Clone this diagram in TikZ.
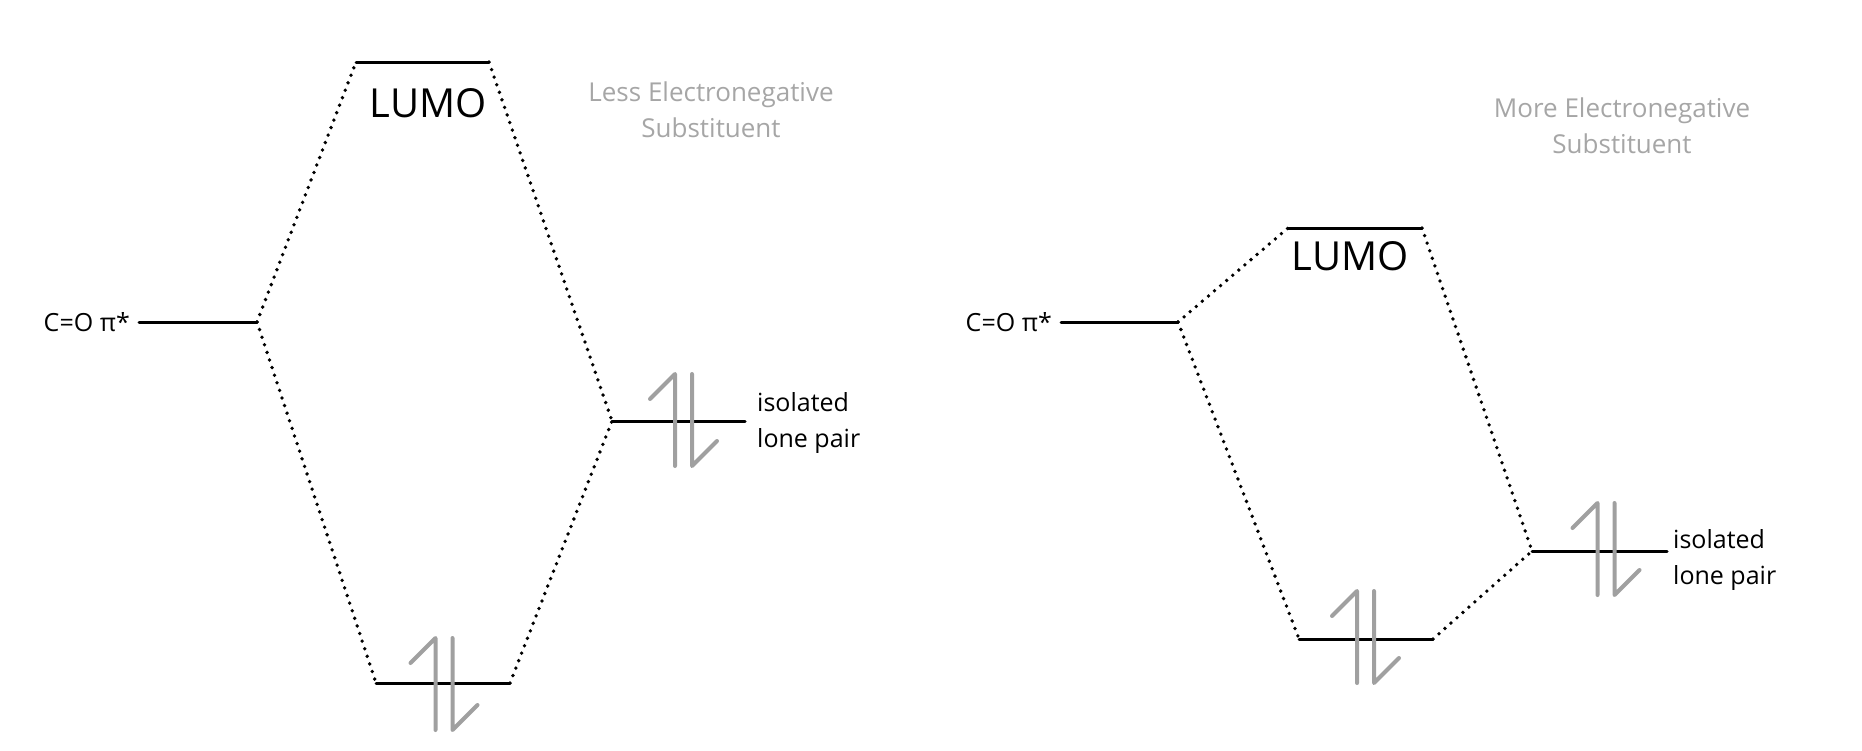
\documentclass[tikz,border=0pt]{standalone}
\usepackage{fontspec}
\setmainfont{Open Sans}
\definecolor{lightgray}{HTML}{A6A6A6}
\definecolor{arrowgray}{HTML}{A0A0A0}
\tikzset{
  level/.style={draw=black, line width=3pt, line cap=round},
  link/.style={draw=black, line width=3.8pt, line cap=round, dash pattern=on 0pt off 8pt},
  elec/.style={draw=arrowgray, line width=4pt, line cap=round, line join=round},
  lbl/.style={font=\fontsize{25}{36}\selectfont, inner sep=0pt, align=left},
  title/.style={font=\fontsize{26}{36}\selectfont, text=lightgray, inner sep=0pt, align=center},
  lumo/.style={font=\fontsize{40}{40}\selectfont, inner sep=0pt},
  pair/.pic={
    \draw[elec] (-8.5,46) -- (-8.5,-46) -- (-33.5,-21);
    \draw[elec] (8.5,-46) -- (8.5,46) -- (33.5,21);
  }
}
\begin{document}
\begin{tikzpicture}[x=1pt,y=-1pt]
\useasboundingbox (0,0) rectangle (1862,750);
% ---------- left diagram ----------
\coordinate (aL1) at (139,322); \coordinate (aR1) at (257,322);
\coordinate (lL1) at (356,62);  \coordinate (lR1) at (489,62);
\coordinate (pL1) at (612,421); \coordinate (pR1) at (745,421);
\coordinate (bL1) at (376,683); \coordinate (bR1) at (510,683);
\draw[level] (aL1) -- (aR1);
\draw[level] (lL1) -- (lR1);
\draw[level] (pL1) -- (pR1);
\draw[level] (bL1) -- (bR1);
\draw[link] (aR1) -- (lL1);
\draw[link] (lR1) -- (pL1);
\draw[link] (aR1) -- (bL1);
\draw[link] (bR1) -- (pL1);
\pic at (683.5,420) {pair};
\pic at (444,684) {pair};
\node[lbl, anchor=east] (co1) at (130,322) {C=O π*};
\node[lumo] (lumo1) at (428,103) {LUMO};
\node[title] (t1) at (711,110) {Less Electronegative\\Substituent};
\node[lbl, anchor=west] (lp1) at (757,423) {isolated\\lone pair};
% ---------- right diagram ----------
\coordinate (aL2) at (1061,322); \coordinate (aR2) at (1178,322);
\coordinate (lL2) at (1288,228); \coordinate (lR2) at (1422,228);
\coordinate (pL2) at (1532,551); \coordinate (pR2) at (1667,551);
\coordinate (bL2) at (1299,639); \coordinate (bR2) at (1433,639);
\draw[level] (aL2) -- (aR2);
\draw[level] (lL2) -- (lR2);
\draw[level] (pL2) -- (pR2);
\draw[level] (bL2) -- (bR2);
\draw[link] (aR2) -- (lL2);
\draw[link] (lR2) -- (pL2);
\draw[link] (aR2) -- (bL2);
\draw[link] (bR2) -- (pL2);
\pic at (1606,549) {pair};
\pic at (1365.5,637) {pair};
\node[lbl, anchor=east] (co2) at (1052,322) {C=O π*};
\node[lumo] (lumo2) at (1350,256) {LUMO};
\node[title] (t2) at (1622,126) {More Electronegative\\Substituent};
\node[lbl, anchor=west] (lp2) at (1673,560) {isolated\\lone pair};
\end{tikzpicture}
\end{document}
